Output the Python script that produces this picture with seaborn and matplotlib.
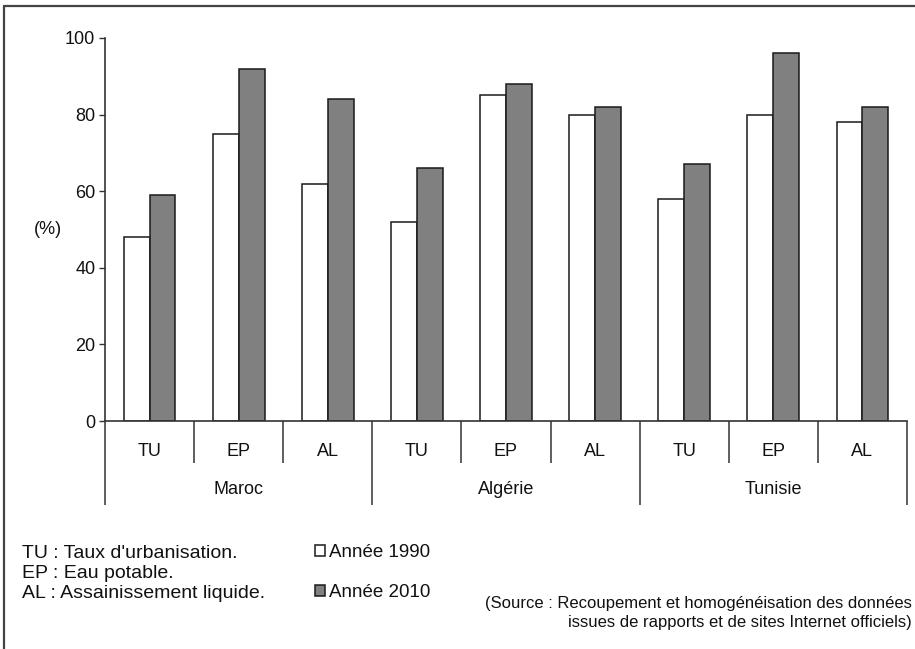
import matplotlib
matplotlib.use("Agg")
import matplotlib.pyplot as plt
import seaborn as sns
import pandas as pd
from matplotlib.lines import Line2D

# ---- data ----
countries = ["Maroc", "Algérie", "Tunisie"]
indicators = ["TU", "EP", "AL"]
years = ["Année 1990", "Année 2010"]
values_1990 = [48, 75, 62, 52, 85, 80, 58, 80, 78]
values_2010 = [59, 92, 84, 66, 88, 82, 67, 96, 82]
legend_defs = ["TU : Taux d'urbanisation.", "EP : Eau potable.", "AL : Assainissement liquide."]
source_text = "(Source : Recoupement et homogénéisation des données\nissues de rapports et de sites Internet officiels)"

cats = [f"{c}-{i}" for c in countries for i in indicators]
df = pd.DataFrame({
    "cat": cats * 2,
    "year": [years[0]] * len(cats) + [years[1]] * len(cats),
    "value": values_1990 + values_2010,
})

sns.set_theme(style="white")
plt.rcParams["font.family"] = ["Liberation Sans", "DejaVu Sans"]

W, H = 915, 649
TXT = "#111111"
fig = plt.figure(figsize=(W / 100, H / 100), dpi=100)
ax = fig.add_axes([105 / W, (H - 421) / H, (907 - 105) / W, (421 - 38) / H])

sns.barplot(data=df, x="cat", y="value", hue="year", order=cats, hue_order=years,
            palette={years[0]: "#ffffff", years[1]: "#808080"},
            width=0.58, edgecolor="#1a1a1a", linewidth=1.1, ax=ax, legend=True)

ax.set_xlim(-0.5, len(cats) - 0.5)
ax.set_ylim(0, 100)
ax.set_yticks([0, 20, 40, 60, 80, 100])
ax.tick_params(axis="y", labelsize=13, length=4, width=1, color="#333333",
               left=True, pad=3, labelcolor=TXT)
ax.set_xticks([])
ax.set_xlabel("")
ax.set_ylabel("")
for s in ["top", "right"]:
    ax.spines[s].set_visible(False)
ax.spines["left"].set_color("#333333")
ax.spines["left"].set_linewidth(1.2)
ax.spines["left"].set_bounds(0, 100)
ax.spines["bottom"].set_color("#333333")
ax.spines["bottom"].set_linewidth(1.2)

ax.text(-0.071, 50, "(%)", transform=ax.get_yaxis_transform(), ha="center", va="center",
        fontsize=13, color=TXT)

trans = ax.get_xaxis_transform()
y_sub = -42 / 383
y_cty = -84 / 383
# separators
for k in range(len(cats) + 1):
    xpos = k - 0.5
    ybot = y_cty if k % 3 == 0 else y_sub
    ax.plot([xpos, xpos], [0, ybot], transform=trans, color="#333333", lw=1.1,
            clip_on=False, solid_capstyle="butt")
# labels
for k, c in enumerate(cats):
    ax.text(k, -30 / 383, indicators[k % 3], transform=trans, ha="center", va="center",
            fontsize=13, color=TXT)
for j, c in enumerate(countries):
    ax.text(3 * j + 1, -69 / 383, c, transform=trans, ha="center", va="center",
            fontsize=13, color=TXT)

# legend
handles, labels = ax.get_legend_handles_labels()
ax.legend_.remove()
leg = fig.legend(handles, labels, loc="upper left", bbox_to_anchor=(315 / W, (H - 544) / H),
                 frameon=False, fontsize=13.5, handlelength=0.55, handleheight=0.55,
                 handletextpad=0.2, labelspacing=1.22, borderpad=0, borderaxespad=0)
for t in leg.get_texts():
    t.set_color(TXT)

for i, t in enumerate(legend_defs):
    fig.text(22 / W, (H - (553 + 20 * i)) / H, t, ha="left", va="center", fontsize=14,
             color=TXT)

fig.text(912 / W, (H - 613) / H, source_text, ha="right", va="center", fontsize=12,
         color=TXT, linespacing=1.4, multialignment="right")

# frame lines (left and top)
fig.add_artist(Line2D([4 / W, 4 / W], [0, (H - 6) / H], transform=fig.transFigure,
                      color="#444444", lw=1.6))
fig.add_artist(Line2D([4 / W, 1], [(H - 6) / H, (H - 6) / H], transform=fig.transFigure,
                      color="#444444", lw=1.6))

fig.savefig("out.png", dpi=100)
